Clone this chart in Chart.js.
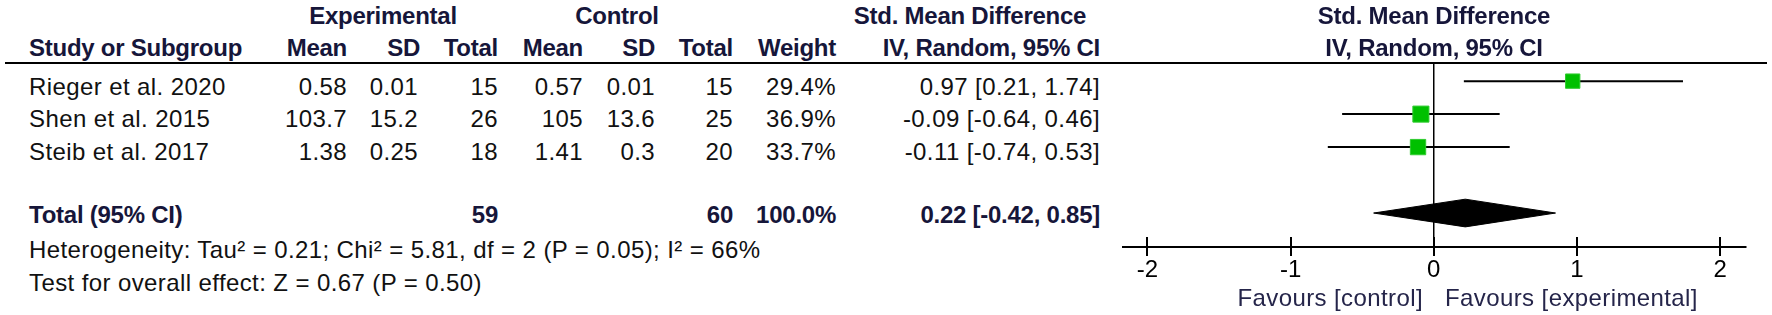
<!DOCTYPE html>
<html lang="en">
<head>
<meta charset="UTF-8">
<title>Forest plot</title>
<script src="https://cdn.jsdelivr.net/npm/chart.js@4.4.1/dist/chart.umd.min.js"></script>
<style>
  html, body { margin: 0; padding: 0; background: #fff; }
  #wrap { position: relative; width: 1772px; height: 315px; overflow: hidden;
          font-family: 'Liberation Sans', Arial, sans-serif; font-size: 24px; color: #111; }
  .t { position: absolute; white-space: nowrap; line-height: 26px; height: 26px; z-index: 2; letter-spacing: 0.4px; }
  .b { font-weight: bold; color: #16163a; letter-spacing: -0.25px; }
  .fav { color: #25254a; }
  #rule { position: absolute; left: 5px; top: 62px; width: 1762px; height: 2px; background: #000; }
  #plot { position: absolute; left: 1100px; top: 0; }
</style>
</head>
<body>
<div id="wrap">
  <div id="rule"></div>
  <canvas id="plot" width="672" height="315"></canvas>
</div>
<script>
// study data
const studies = ['Rieger et al. 2020', 'Shen et al. 2015', 'Steib et al. 2017'];
const expMean = ['0.58', '103.7', '1.38'];
const expSD = ['0.01', '15.2', '0.25'];
const expN = [15, 26, 18];
const ctlMean = ['0.57', '105', '1.41'];
const ctlSD = ['0.01', '13.6', '0.3'];
const ctlN = [15, 25, 20];
const weight = [29.4, 36.9, 33.7];
const smd = [0.97, -0.09, -0.11];
const ciLo = [0.21, -0.64, -0.74];
const ciHi = [1.74, 0.46, 0.53];

// pooled result
const totalExpN = 59;
const totalCtlN = 60;
const totalWeight = 100.0;
const totalSmd = 0.22;
const totalLo = -0.42;
const totalHi = 0.85;
const heterogeneity = 'Heterogeneity: Tau² = 0.21; Chi² = 5.81, df = 2 (P = 0.05); I² = 66%';
const overallEffect = 'Test for overall effect: Z = 0.67 (P = 0.50)';

const xTicks = [-2, -1, 0, 1, 2];
const favLeft = 'Favours [control]';
const favRight = 'Favours [experimental]';

// table layout (pixels)
const W = 1772;
const col = { expMean: 347, expSD: 420, expN: 498, ctlMean: 583, ctlSD: 655, ctlN: 733, weight: 836, ci: 1100 };
const rowTextY = [87, 119, 152];
const totalTextY = 215;

const wrap = document.getElementById('wrap');
function put(text, x, y, align, cls) {
  const d = document.createElement('div');
  d.className = 't' + (cls ? ' ' + cls : '');
  d.textContent = text;
  d.style.top = (y - 13) + 'px';
  if (align === 'right') d.style.right = (W - x) + 'px';
  else if (align === 'center') { d.style.left = x + 'px'; d.style.transform = 'translateX(-50%)'; }
  else d.style.left = x + 'px';
  wrap.appendChild(d);
}
const ci = (m, l, h) => m.toFixed(2) + ' [' + l.toFixed(2) + ', ' + h.toFixed(2) + ']';

// headers
put('Experimental', 383, 16, 'center', 'b');
put('Control', 617, 16, 'center', 'b');
put('Std. Mean Difference', 970, 16, 'center', 'b');
put('Std. Mean Difference', 1434, 16, 'center', 'b');
put('Study or Subgroup', 29, 48, 'left', 'b');
put('Mean', col.expMean, 48, 'right', 'b');
put('SD', col.expSD, 48, 'right', 'b');
put('Total', col.expN, 48, 'right', 'b');
put('Mean', col.ctlMean, 48, 'right', 'b');
put('SD', col.ctlSD, 48, 'right', 'b');
put('Total', col.ctlN, 48, 'right', 'b');
put('Weight', col.weight, 48, 'right', 'b');
put('IV, Random, 95% CI', col.ci, 48, 'right', 'b');
put('IV, Random, 95% CI', 1434, 48, 'center', 'b');

// study rows
studies.forEach((s, i) => {
  const y = rowTextY[i];
  put(s, 29, y, 'left');
  put(expMean[i], col.expMean, y, 'right');
  put(expSD[i], col.expSD - 2, y, 'right');
  put(String(expN[i]), col.expN, y, 'right');
  put(ctlMean[i], col.ctlMean, y, 'right');
  put(ctlSD[i], col.ctlSD, y, 'right');
  put(String(ctlN[i]), col.ctlN, y, 'right');
  put(weight[i].toFixed(1) + '%', col.weight, y, 'right');
  put(ci(smd[i], ciLo[i], ciHi[i]), col.ci, y, 'right');
});

// total + footer
put('Total (95% CI)', 29, totalTextY, 'left', 'b');
put(String(totalExpN), col.expN, totalTextY, 'right', 'b');
put(String(totalCtlN), col.ctlN, totalTextY, 'right', 'b');
put(totalWeight.toFixed(1) + '%', col.weight, totalTextY, 'right', 'b');
put(ci(totalSmd, totalLo, totalHi), col.ci, totalTextY, 'right', 'b');
put(heterogeneity, 29, 250, 'left');
put(overallEffect, 29, 283, 'left');
put(favLeft, 1423, 298, 'right', 'fav');
put(favRight, 1445, 298, 'left', 'fav');

// plot: rows 1..3 for studies, row 5 for pooled diamond
const totalRow = 5;
const diamondHalf = 0.42;
const datasets = [];
studies.forEach((s, i) => {
  datasets.push({
    data: [{ x: ciLo[i], y: i + 1 }, { x: ciHi[i], y: i + 1 }],
    showLine: true, borderColor: '#000', borderWidth: 2, pointRadius: 0, order: 2
  });
});
datasets.push({
  data: smd.map((v, i) => ({ x: v, y: i + 1 })),
  pointStyle: 'rect',
  pointRadius: weight.map(w => 1.87 * Math.sqrt(w)),
  backgroundColor: '#00c000', borderColor: '#30cc30', borderWidth: 1, order: 1
});
datasets.push({
  data: [
    { x: totalLo, y: totalRow },
    { x: totalSmd, y: totalRow - diamondHalf },
    { x: totalHi, y: totalRow },
    { x: totalSmd, y: totalRow + diamondHalf },
    { x: totalLo, y: totalRow }
  ],
  showLine: true, fill: 'shape', tension: 0,
  borderColor: '#000', backgroundColor: '#000', borderWidth: 1, pointRadius: 0, order: 1
});

const tickMarks = {
  id: 'tickMarks',
  afterDraw(chart) {
    const { ctx, scales: { x }, chartArea } = chart;
    ctx.save();
    ctx.strokeStyle = '#000';
    ctx.lineWidth = 2;
    x.ticks.forEach(t => {
      const px = Math.round(x.getPixelForValue(t.value));
      ctx.beginPath();
      ctx.moveTo(px, chartArea.bottom - 10);
      ctx.lineTo(px, chartArea.bottom + 9);
      ctx.stroke();
    });
    ctx.restore();
  }
};

new Chart(document.getElementById('plot'), {
  type: 'scatter',
  data: { datasets },
  plugins: [tickMarks],
  options: {
    responsive: false,
    animation: false,
    devicePixelRatio: 1,
    layout: { padding: { left: 23, right: 26, top: 63, bottom: 0 } },
    plugins: { legend: { display: false }, tooltip: { enabled: false } },
    scales: {
      x: {
        type: 'linear', min: -2.17, max: 2.18,
        afterBuildTicks: s => { s.ticks = xTicks.map(v => ({ value: v })); },
        afterFit: s => { s.height = 68; },
        grid: {
          drawOnChartArea: true, drawTicks: false, lineWidth: 1.5,
          color: c => (c.tick && c.tick.value === 0) ? '#000' : 'rgba(0,0,0,0)'
        },
        border: { display: true, color: '#000', width: 2 },
        ticks: { font: { family: 'Liberation Sans', size: 24 }, color: '#000', padding: 9, maxRotation: 0, autoSkip: false }
      },
      y: { type: 'linear', display: false, reverse: true, min: 0.45, max: 6.03 }
    }
  }
});
</script>
</body>
</html>
